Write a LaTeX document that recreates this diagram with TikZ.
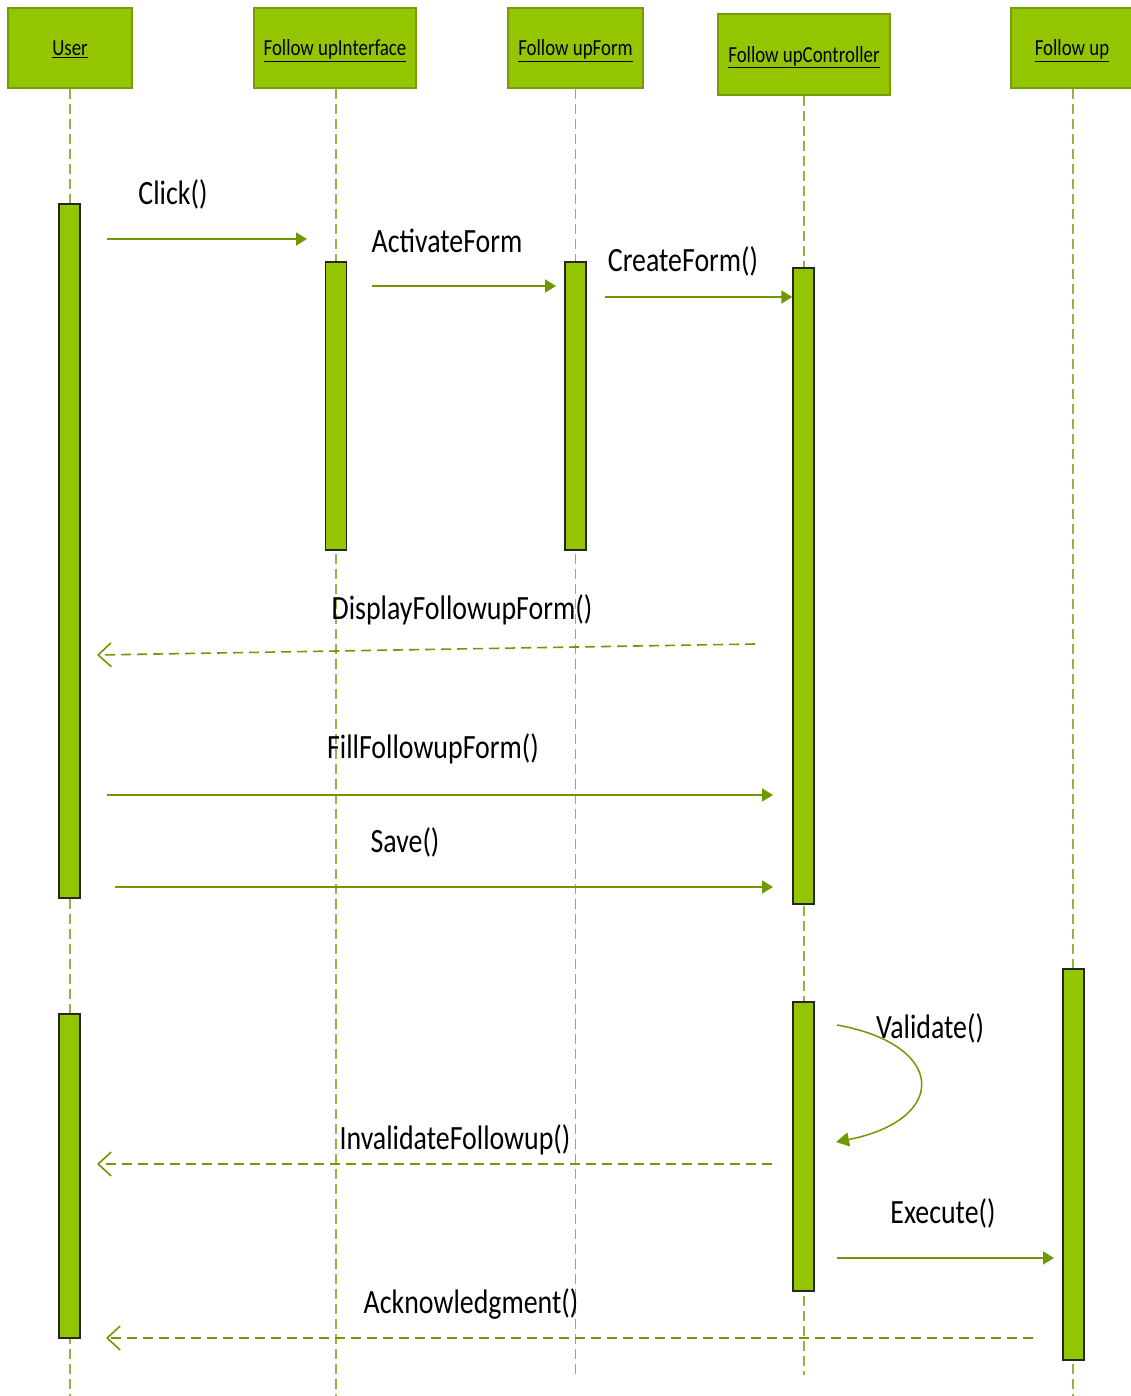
\documentclass[tikz,border=0pt]{standalone}
\usepackage{fontspec}
\setmainfont[FakeStretch=0.82]{Carlito}
\usetikzlibrary{arrows.meta}

\definecolor{objfill}{RGB}{148,198,0}
\definecolor{objedge}{RGB}{118,156,10}
\definecolor{msg}{RGB}{112,152,0}
\definecolor{life}{RGB}{150,178,70}

% object name: underlined, baseline set a little below the box centre
\newcommand{\objname}[1]{\raisebox{-8pt}[0pt][0pt]{\underline{#1}}}

\tikzset{
  head/.style={draw=objedge, line width=1.2pt, fill=objfill, inner sep=0pt,
    font=\fontsize{23}{27}\selectfont},
  bar/.style={draw=black!85, line width=1.4pt, fill=objfill, inner sep=0pt,
    minimum width=21pt},
  lifeline/.style={draw=life, line width=1.1pt, dash pattern=on 10pt off 5pt},
  call/.style={draw=msg, line width=1.8pt, -{Triangle[length=11pt,width=13pt]}},
  reply/.style={draw=msg, line width=1.6pt, dash pattern=on 10pt off 6pt,
    -{Straight Barb[length=13pt,width=24pt,line width=1.6pt]}},
  lbl/.style={font=\fontsize{34}{40}\selectfont, inner sep=0pt}
}

\begin{document}
\begin{tikzpicture}[x=1pt,y=-1pt]
\useasboundingbox (0,0) rectangle (1131,1396);

% object boxes
\node[head, minimum width=124pt, minimum height=80pt] (user) at (70,48) {\objname{User}};
\node[head, minimum width=162pt, minimum height=80pt] (ui) at (335,48) {\objname{Follow upInterface}};
\node[head, minimum width=135pt, minimum height=80pt] (form) at (575.5,48) {\objname{Follow upForm}};
\node[head, minimum width=172pt, minimum height=81pt] (ctrl) at (804,54.5) {\objname{Follow upController}};
\node[head, minimum width=122pt, minimum height=80pt] (fu) at (1072,48) {\objname{Follow up}};

% lifelines
\coordinate (userEnd) at (70,1396);
\coordinate (uiEnd) at (336,1396);
\coordinate (formEnd) at (575.5,1375);
\coordinate (ctrlEnd) at (804,1375);
\coordinate (fuEnd) at (1073,1396);
\draw[lifeline] (user.south) -- (userEnd);
\draw[lifeline] (ui.south -| uiEnd) -- (uiEnd);
\draw[lifeline] (form.south) -- (formEnd);
\draw[lifeline] (ctrl.south) -- (ctrlEnd);
\draw[lifeline] (fu.south -| fuEnd) -- (fuEnd);

% activation bars
\node[bar, minimum height=694pt] (userA) at (69.5,551) {};
\node[bar, minimum height=324pt] (userB) at (69.5,1176) {};
\node[bar, minimum height=288pt] (uiA) at (336,406) {};
\node[bar, minimum height=288pt] (formA) at (575.5,406) {};
\node[bar, minimum height=636pt] (ctrlA) at (803.5,586) {};
\node[bar, minimum height=289pt] (ctrlB) at (803.5,1146.5) {};
\node[bar, minimum height=391pt] (fuA) at (1073.5,1164.5) {};

% message end points
\coordinate (clickS) at (107,239);   \coordinate (clickE) at (307,239);
\coordinate (actS) at (372,286);     \coordinate (actE) at (556,286);
\coordinate (createS) at (605,297);
\coordinate (dispS) at (755,644);    \coordinate (dispE) at (97,655);
\coordinate (fillS) at (107,795);    \coordinate (fillE) at (773,795);
\coordinate (saveS) at (115,887);    \coordinate (saveE) at (773,887);
\coordinate (valS) at (837,1025);    \coordinate (valE) at (836,1142);
\coordinate (invS) at (772,1164);    \coordinate (invE) at (97,1164);
\coordinate (execS) at (837,1258);   \coordinate (execE) at (1054,1258);
\coordinate (ackS) at (1033,1338);   \coordinate (ackE) at (106,1338);

% messages
\draw[call] (clickS) -- (clickE);
\draw[call] (actS) -- (actE);
\draw[call] (createS) -- (createS -| ctrlA.west);
\draw[reply] (dispS) -- (dispE);
\draw[call] (fillS) -- (fillE);
\draw[call] (saveS) -- (saveE);
\draw[draw=msg, line width=1.5pt, -{Triangle[length=13pt,width=14pt]}]
  (valS) .. controls (948,1045) and (948,1120) .. (valE);
\draw[reply] (invS) -- (invE);
\draw[call] (execS) -- (execE);
\draw[reply] (ackS) -- (ackE);

% message labels
\node[lbl] (lClick) at (173,194) {Click()};
\node[lbl] (lAct) at (447,241) {ActivateForm};
\node[lbl] (lCreate) at (683,261) {CreateForm()};
\node[lbl] (lDisp) at (462,610) {DisplayFollowupForm()};
\node[lbl] (lFill) at (433,749) {FillFollowupForm()};
\node[lbl] (lSave) at (405,842) {Save()};
\node[lbl] (lVal) at (930,1028) {Validate()};
\node[lbl] (lInv) at (455,1140) {InvalidateFollowup()};
\node[lbl] (lExec) at (943,1213) {Execute()};
\node[lbl] (lAck) at (471,1304) {Acknowledgment()};
\end{tikzpicture}
\end{document}
